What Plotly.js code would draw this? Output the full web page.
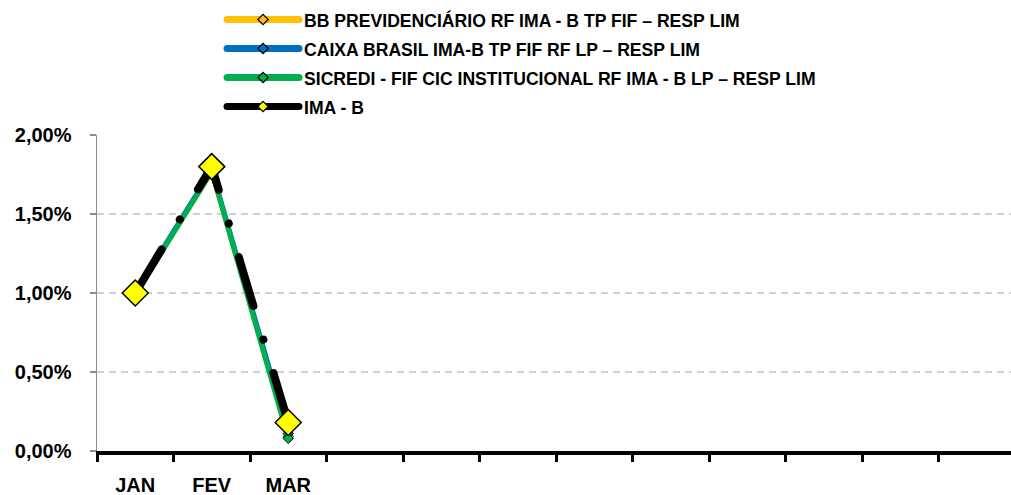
<!DOCTYPE html>
<html>
<head>
<meta charset="utf-8">
<script src="https://cdn.plot.ly/plotly-3.0.1.min.js"></script>
<style>
html, body { margin: 0; padding: 0; overflow: hidden; background: #fff; }
#chart { width: 1015px; height: 495px; }
path.js-line { stroke-linecap: round; }
</style>
</head>
<body>
<div id="chart"></div>
<script>
const months = ['JAN','FEV','MAR','ABR','MAI','JUN','JUL','AGO','SET','OUT','NOV','DEZ'];
const shownLabels = ['JAN','FEV','MAR','','','','','','','','',''];
const dataMonths = ['JAN','FEV','MAR'];

const seriesNames = [
  'BB PREVIDENCIÁRIO RF IMA - B TP FIF – RESP LIM',
  'CAIXA BRASIL IMA-B TP FIF RF LP – RESP LIM',
  'SICREDI - FIF CIC INSTITUCIONAL RF IMA - B LP – RESP LIM',
  'IMA - B'
];
const seriesColors = ['#FFC000', '#0070C0', '#00B050', '#000000'];
const bbValues = [0.0099, 0.0177, 0.0009];
const caixaValues = [0.0100, 0.0178, 0.0011];
const sicrediValues = [0.0099, 0.0177, 0.0008];
const imabValues = [0.0100, 0.0180, 0.0018];

const font = 'Liberation Sans Narrow, Arial Narrow, sans-serif';

function label(name) {
  return '<span style="font-size:17.6px">' + name + '</span>';
}

function fundTrace(i, vals) {
  return {
    x: dataMonths, y: vals, name: label(seriesNames[i]), legendgroup: 's' + i,
    type: 'scatter', mode: 'lines+markers', showlegend: false,
    line: { color: seriesColors[i], width: 5 },
    marker: { symbol: 'diamond', size: 8, color: seriesColors[i], line: { color: '#000', width: 1 } },
    hoverinfo: 'skip'
  };
}

const traces = [
  fundTrace(0, bbValues),
  fundTrace(1, caixaValues),
  fundTrace(2, sicrediValues),
  {
    x: dataMonths, y: imabValues, name: label(seriesNames[3]), legendgroup: 's3',
    type: 'scatter', mode: 'lines+markers', showlegend: false,
    line: { color: '#000', width: 8, dash: '51px,35px,0.1px,35px' },
    marker: { symbol: 'diamond', size: 20, color: '#FFFF00', line: { color: '#000', width: 1.5 } },
    hoverinfo: 'skip'
  }
];

// legend-only entries (no data points), styled like the source legend keys
seriesNames.forEach(function (n, i) {
  traces.push({
    x: [null], y: [null], name: label(n), legendgroup: 's' + i,
    type: 'scatter', mode: 'lines+markers', showlegend: true,
    line: { color: seriesColors[i], width: 7 },
    marker: { symbol: 'diamond', size: 8, color: i === 3 ? '#FFFF00' : seriesColors[i], line: { color: '#000', width: 1.2 } },
    hoverinfo: 'skip'
  });
});

const layout = {
  width: 1015, height: 495,
  margin: { l: 97, r: 0, t: 134, b: 44 },
  paper_bgcolor: '#fff', plot_bgcolor: '#fff',
  font: { family: font, color: '#000', size: 16 },
  showlegend: true,
  legend: {
    x: 0.1362, y: 1.425, xanchor: 'left', yanchor: 'top',
    font: { family: font, size: 20, color: '#000', weight: 'bold' },
    itemwidth: 72, itemsizing: 'trace', traceorder: 'normal',
    bgcolor: 'rgba(0,0,0,0)'
  },
  xaxis: {
    type: 'category', categoryorder: 'array', categoryarray: months,
    range: [-0.5, 11.5],
    tickmode: 'array', tickvals: months, ticktext: shownLabels,
    tickson: 'boundaries',
    showline: true, linecolor: '#000', linewidth: 4,
    ticks: 'outside', ticklen: 7, tickwidth: 3, tickcolor: '#000',
    showgrid: false, zeroline: false,
    tickfont: { family: font, size: 20, color: '#000', weight: 'bold' },
    ticklabelstandoff: 13, fixedrange: true
  },
  yaxis: {
    range: [0, 0.02], tickvals: [0, 0.005, 0.01, 0.015, 0.02],
    tickformat: '.2%',
    showline: true, linecolor: '#8c8c8c', linewidth: 1.5,
    ticks: 'outside', ticklen: 6, tickwidth: 1.5, tickcolor: '#8c8c8c',
    showgrid: true, gridcolor: '#d0d0d0', gridwidth: 1.5, griddash: '7px,5px',
    zeroline: false,
    tickfont: { family: font, size: 20, color: '#000', weight: 'bold' },
    ticklabelstandoff: 14, fixedrange: true
  },
  separators: ',.'
};

Plotly.newPlot('chart', traces, layout, { displayModeBar: false, staticPlot: true });
</script>
</body>
</html>
